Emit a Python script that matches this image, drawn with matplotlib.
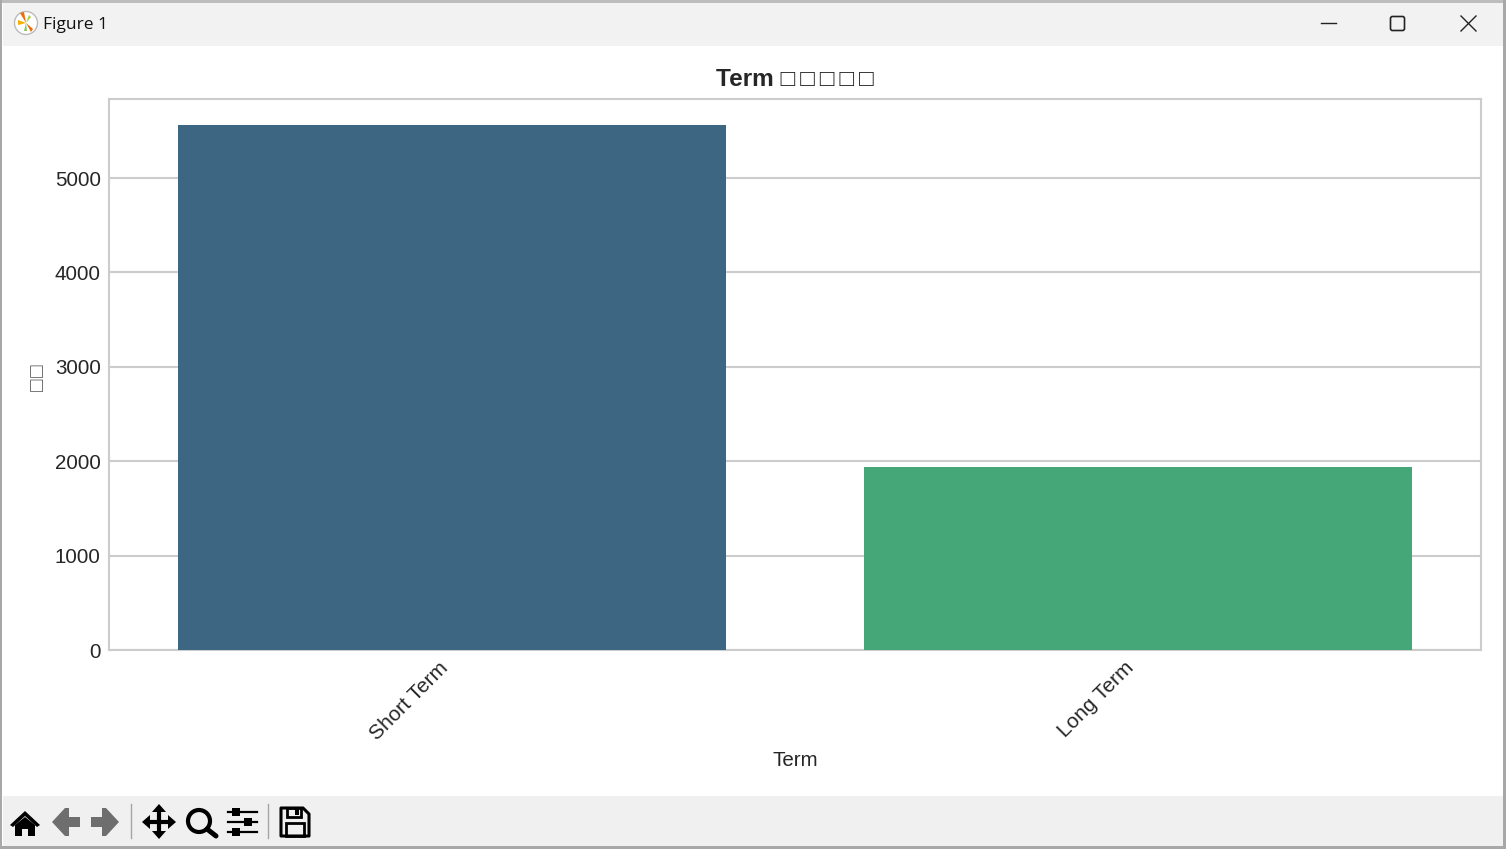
import matplotlib
matplotlib.use("Agg")
import matplotlib.pyplot as plt
from matplotlib.patches import Rectangle, Polygon, Circle, FancyBboxPatch

categories = ["Short Term", "Long Term"]
counts = [5560, 1938]
bar_colors = ["#3D6682", "#45A778"]
y_ticks = [0, 1000, 2000, 3000, 4000, 5000]
title_text = "Term \u25A1\u2009\u25A1\u2009\u25A1\u2009\u25A1\u2009\u25A1"
ylabel_text = "\u25A1\u200A\u25A1"
xlabel_text = "Term"
window_title = "Figure 1"

W, H = 1506, 849
plt.rcParams["font.family"] = ["Liberation Sans", "DejaVu Sans"]
INK = "#262626"
GRID = "#CCCCCC"

fig = plt.figure(figsize=(W / 100, H / 100), dpi=100, facecolor="white")

# ---- window chrome, in pixel coordinates ----
ch = fig.add_axes([0, 0, 1, 1], zorder=0)
ch.set_xlim(0, W)
ch.set_ylim(H, 0)
ch.axis("off")
ch.add_patch(Rectangle((0, 0), W, 3, fc="#BDBDBD", ec="none"))
ch.add_patch(Rectangle((3, 3), W - 6, 43, fc="#F2F2F2", ec="none"))
ch.add_patch(Rectangle((3, 796), W - 6, 50, fc="#F0F0F0", ec="none"))
ch.add_patch(Rectangle((0, 0), 2.5, H, fc="#A8A8A8", ec="none"))
ch.add_patch(Rectangle((W - 2.5, 0), 2.5, H, fc="#A8A8A8", ec="none"))
ch.add_patch(Rectangle((0, H - 3), W, 3, fc="#A8A8A8", ec="none"))

# app icon
ch.add_patch(Circle((26, 23), 11.5, fc="white", ec="#BBBBBB", lw=1))
ch.add_patch(Polygon([[26, 23], [18, 20], [18, 25]], fc="#F5B000", ec="none"))
ch.add_patch(Polygon([[26, 23], [20, 13], [24, 12]], fc="#EE6A10", ec="none"))
ch.add_patch(Polygon([[26, 23], [33, 29], [31, 32]], fc="#EE6A10", ec="none"))
ch.add_patch(Polygon([[26, 23], [29, 15], [31, 17]], fc="#A0D040", ec="none"))
ch.add_patch(Polygon([[26, 23], [24, 31], [27, 31]], fc="#80C860", ec="none"))
ch.text(43, 24.5, window_title, family="Open Sans", fontsize=12.5, color="#111111", va="center", ha="left")

# window buttons
ch.plot([1321, 1336], [23, 23], color="#222222", lw=1)
ch.add_patch(FancyBboxPatch((1390.5, 16.5), 14, 14, boxstyle="round,pad=0,rounding_size=2", fc="none", ec="#222222", lw=1.2))
ch.plot([1461, 1476], [16, 31], color="#222222", lw=1)
ch.plot([1461, 1476], [31, 16], color="#222222", lw=1)

# toolbar icons
K = "#000000"
ch.add_patch(Polygon([[10, 825], [25, 811], [40, 825], [37, 827], [25, 816], [13, 827]], fc=K, ec="none"))
ch.add_patch(Polygon([[15, 825], [25, 817], [35, 825], [35, 836], [28, 836], [28, 829], [22, 829], [22, 836], [15, 836]], fc=K, ec="none"))
ch.add_patch(Polygon([[52, 822], [65, 808], [69, 808], [69, 817], [80, 817], [80, 827], [69, 827], [69, 836], [65, 836]], fc="#6E6E6E", ec="none"))
ch.add_patch(Polygon([[119, 822], [106, 808], [102, 808], [102, 817], [91, 817], [91, 827], [102, 827], [102, 836], [106, 836]], fc="#6E6E6E", ec="none"))
ch.plot([131.5, 131.5], [804, 838], color="#A5A5A5", lw=1)
ch.plot([159, 159], [810, 834], color=K, lw=3, solid_capstyle="butt")
ch.plot([146, 172], [822, 822], color=K, lw=3, solid_capstyle="butt")
ch.add_patch(Polygon([[159, 804], [152, 812], [166, 812]], fc=K, ec="none"))
ch.add_patch(Polygon([[159, 839], [152, 831], [166, 831]], fc=K, ec="none"))
ch.add_patch(Polygon([[142, 822], [150, 815], [150, 829]], fc=K, ec="none"))
ch.add_patch(Polygon([[176, 822], [168, 815], [168, 829]], fc=K, ec="none"))
ch.add_patch(Circle((199, 821), 11, fc="none", ec=K, lw=3))
ch.plot([207, 216], [829, 836], color=K, lw=3.6, solid_capstyle="round")
for yy, xx in [(812, 236), (822, 248), (832, 236)]:
    ch.plot([228, 257], [yy, yy], color=K, lw=1.6)
    ch.add_patch(Rectangle((xx - 4, yy - 4), 8, 8, fc=K, ec="none"))
ch.plot([268.5, 268.5], [804, 838], color="#A5A5A5", lw=1)
ch.add_patch(Polygon([[281, 808], [303, 808], [309, 814], [309, 836], [281, 836]], fc="none", ec=K, lw=2.2, joinstyle="round"))
ch.add_patch(Rectangle((287, 808), 14, 9, fc="none", ec=K, lw=2))
ch.add_patch(Rectangle((295, 809), 4, 6, fc=K, ec="none"))
ch.add_patch(Rectangle((286, 823), 18, 13, fc="none", ec=K, lw=2))

# ---- the chart ----
L, R, T, B = 109, 1481, 99, 650
ax = fig.add_axes([L / W, 1 - B / H, (R - L) / W, (B - T) / H], zorder=2)
ax.set_facecolor("white")
x = list(range(len(categories)))
ax.bar(x, counts, width=0.8, color=bar_colors, zorder=3)
ax.set_xlim(-0.5, 1.5)
ax.set_ylim(0, max(counts) * 1.05)
ax.set_yticks(y_ticks)
ax.set_xticks(x)
ax.set_xticklabels(categories, rotation=45, ha="right", fontsize=15, color=INK)
ax.tick_params(axis="y", length=0, labelsize=14.8, labelcolor=INK, pad=6)
ax.tick_params(axis="x", length=0, pad=6)
ax.yaxis.grid(True, color=GRID, lw=1.5, zorder=0)
ax.xaxis.grid(False)
ax.set_axisbelow(True)
for s in ax.spines.values():
    s.set_color(GRID)
    s.set_linewidth(1.5)
fig.text(795 / W, 1 - 79.5 / H, title_text, fontsize=17.6, fontweight="bold", color=INK, ha="center", va="center", zorder=5)
fig.text(795 / W, 1 - 760 / H, xlabel_text, fontsize=14.8, color=INK, ha="center", va="center", zorder=5)
fig.text(38 / W, 1 - 378 / H, ylabel_text, fontsize=14.8, color="#555555", ha="center", va="center", rotation=90, zorder=5)

fig.savefig("out.png", dpi=100, facecolor="white")
